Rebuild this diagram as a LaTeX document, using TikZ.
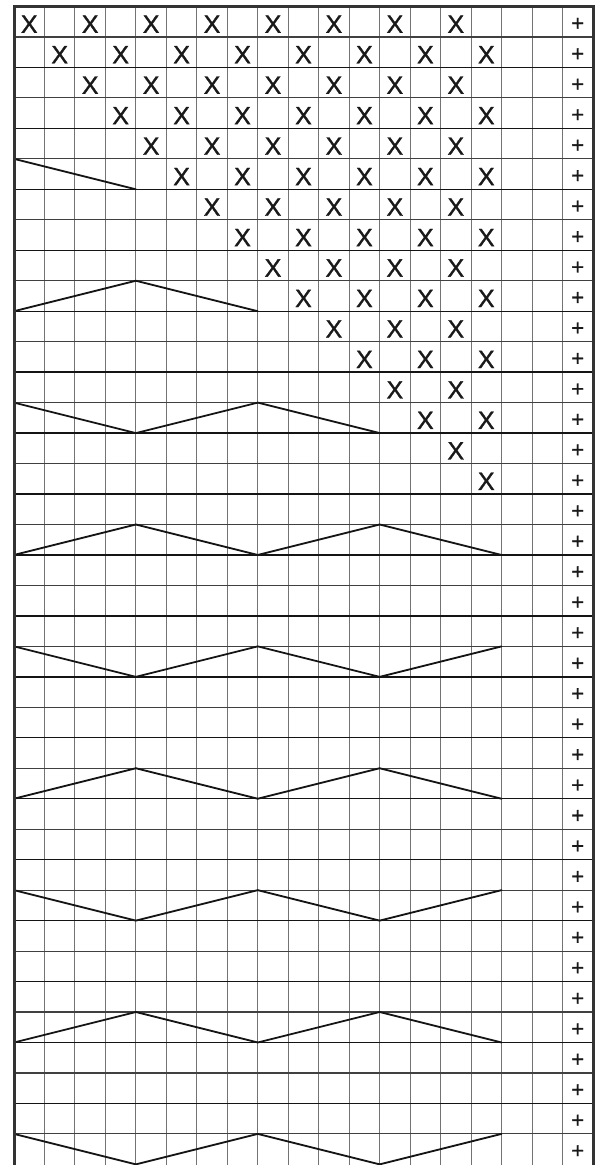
\documentclass[tikz,border=0pt]{standalone}
\usepackage{fontspec}
\setmainfont{Liberation Sans}
\newfontfamily\markfont{Liberation Sans}[FakeBold=1.2]
\begin{document}
\begin{tikzpicture}[x=1pt,y=-1pt,
  vline/.style={draw=black!55,line width=0.9pt},
  hthin/.style={draw=black!75,line width=1.1pt},
  hthick/.style={draw=black!92,line width=1.4pt},
  frame/.style={draw=black!80,line width=3pt,line join=miter},
  zig/.style={draw=black!92,line width=1.8pt,line cap=round},
  xmark/.style={font=\markfont\fontsize{25}{25}\selectfont,inner sep=0pt,text=black!90},
  pmark/.style={font=\markfont\fontsize{22}{22}\selectfont,inner sep=0pt,text=black!90},
]
\def\cw{30.47}
\fill[white] (0,0) rectangle (605,1165);
\useasboundingbox (0,0) rectangle (605,1165);
% vertical grid lines
\foreach \c in {1,...,18}{
  \draw[vline] ({14+\c*\cw},6.5) -- ({14+\c*\cw},1165);
}
% horizontal grid lines
\foreach \r in {1,...,37}{
  \pgfmathtruncatemacro\ev{mod(\r,2)}
  \ifnum\ev=0
    \draw[hthick] (14,{6.5+\r*\cw}) -- (593,{6.5+\r*\cw});
  \else
    \draw[hthin] (14,{6.5+\r*\cw}) -- (593,{6.5+\r*\cw});
  \fi
}
% X marks
\foreach \r in {1,...,16}{
  \foreach \c in {1,...,16}{
    \pgfmathtruncatemacro\ok{(\c>=\r)*(1-mod(\c-\r,2))}
    \ifnum\ok=1
      \node[xmark] (x\r-\c) at ({14+(\c-0.5)*\cw},{6.5+(\r-0.5)*\cw+2.5}) {X};
    \fi
  }
}
% plus marks
\foreach \r in {1,...,38}{
  \node[pmark] (p\r) at ({14+18.5*\cw},{6.5+(\r-0.5)*\cw+2.5}) {+};
}
% zigzag lines
\foreach \k/\n in {0/1,1/2,2/3,3/4,4/4,5/4,6/4,7/4,8/4}{
  \pgfmathsetmacro\yt{6.5+(5+4*\k)*\cw}
  \pgfmathsetmacro\yb{\yt+\cw}
  \foreach \s in {1,...,\n}{
    \pgfmathsetmacro\xa{14+4*(\s-1)*\cw}
    \pgfmathsetmacro\xb{14+4*\s*\cw}
    \pgfmathtruncatemacro\t{mod(\k+\s-1,2)}
    \ifnum\t=0
      \draw[zig] (\xa,\yt) -- (\xb,\yb);
    \else
      \draw[zig] (\xa,\yb) -- (\xb,\yt);
    \fi
  }
}
% frame
\draw[frame] (14,1166) -- (14,6.5) -- (593,6.5) -- (593,1166);
\end{tikzpicture}
\end{document}
